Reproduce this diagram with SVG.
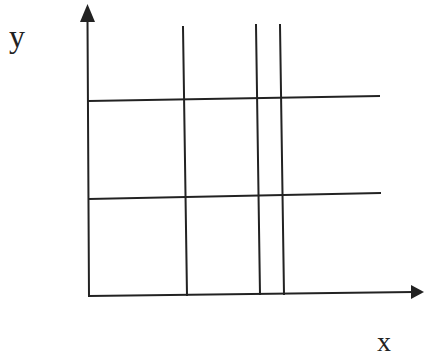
<svg xmlns="http://www.w3.org/2000/svg" width="424" height="362" viewBox="0 0 424 362">
<style>
.ln{stroke:#222;stroke-width:2;fill:none;stroke-linecap:square}
.lbl{font-family:"Liberation Serif",serif;fill:#222}
</style>
<rect width="424" height="362" fill="#fff"/>
<g id="axes">
<line class="ln" x1="89" y1="296" x2="87.5" y2="20"/>
<path d="M87.5,4 L95,22 L80,22 Z" fill="#222"/>
<line class="ln" x1="89" y1="296" x2="413" y2="292"/>
<path d="M424,292 L411,285 L411,299 Z" fill="#222"/>
</g>
<g id="connectors">
<line class="ln" x1="89" y1="101" x2="379" y2="96"/>
<line class="ln" x1="89" y1="199" x2="380" y2="193"/>
<line class="ln" x1="183" y1="27" x2="187" y2="295"/>
<line class="ln" x1="256" y1="25" x2="260" y2="294"/>
<line class="ln" x1="280" y1="25" x2="284" y2="294"/>
</g>
<text class="lbl" x="9" y="47" font-size="32">y</text>
<text class="lbl" x="377" y="351" font-size="28">x</text>
</svg>
